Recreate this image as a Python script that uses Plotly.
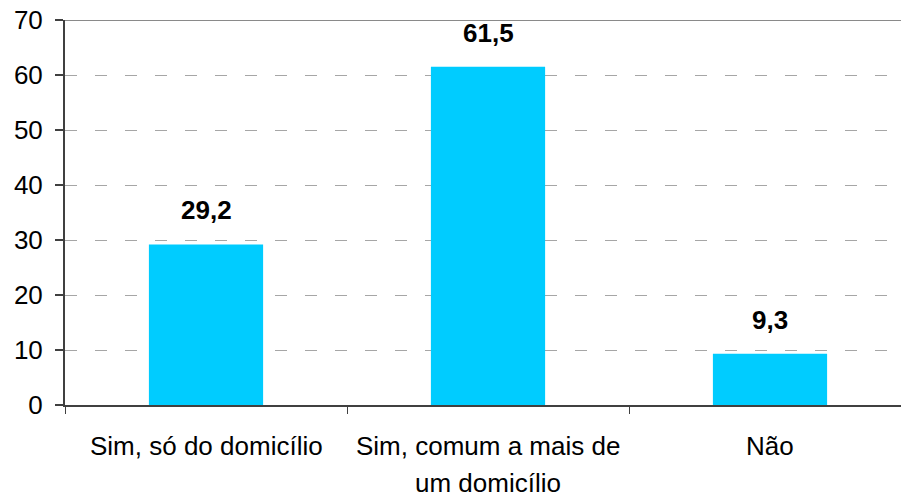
import plotly.graph_objects as go

categories = ["Sim, só do domicílio", "Sim, comum a mais de\num domicílio", "Não"]
values = [29.2, 61.5, 9.3]
y_ticks = [0, 10, 20, 30, 40, 50, 60, 70]

BAR = "#00CCFF"
FONT = "Liberation Sans, Arial, sans-serif"

fig = go.Figure(go.Bar(x=categories, y=values, marker=dict(color=BAR, line=dict(width=0)),
                       width=0.405, hoverinfo="skip"))

ann = []
for i, (c, v) in enumerate(zip(categories, values)):
    ann.append(dict(x=i, y=v, xref="x", yref="y", text="<b>%s</b>" % f"{v:.1f}".replace(".", ","),
                    showarrow=False, yanchor="bottom", yshift=17,
                    font=dict(family=FONT, size=26, color="#000000")))
    for j, line in enumerate(c.split("\n")):
        ann.append(dict(x=i, y=0, xref="x", yref="paper", text=line, showarrow=False,
                        yanchor="top", yshift=-24 - 37 * j,
                        font=dict(family=FONT, size=26, color="#000000")))

fig.update_layout(
    width=901, height=497,
    margin=dict(l=65, r=0, t=20, b=92),
    paper_bgcolor="white", plot_bgcolor="white",
    showlegend=False,
    annotations=ann,
    shapes=[dict(type="line", xref="paper", x0=0, x1=1, yref="y", y0=70, y1=70,
                 line=dict(color="#8a8a8a", width=2))],
    xaxis=dict(type="category", range=[-0.5, -0.5 + 836 / 282],
               showticklabels=False, tickson="boundaries", ticks="outside",
               ticklen=7, tickwidth=1, tickcolor="#404040",
               showline=True, linecolor="#404040", linewidth=2, showgrid=False,
               zeroline=False, fixedrange=True),
    yaxis=dict(range=[0, 70], tickvals=y_ticks, ticks="outside", ticklen=8,
               tickwidth=1.5, tickcolor="#404040",
               showline=True, linecolor="#404040", linewidth=2,
               showgrid=True, gridcolor="#a6a6a6", gridwidth=1, griddash="12px,18px",
               zeroline=False, ticklabelstandoff=7,
               tickfont=dict(family=FONT, size=26, color="#000000"), fixedrange=True),
)

fig.write_html("out.html", config={"displayModeBar": False},
               post_script="document.body.style.margin='0';")
